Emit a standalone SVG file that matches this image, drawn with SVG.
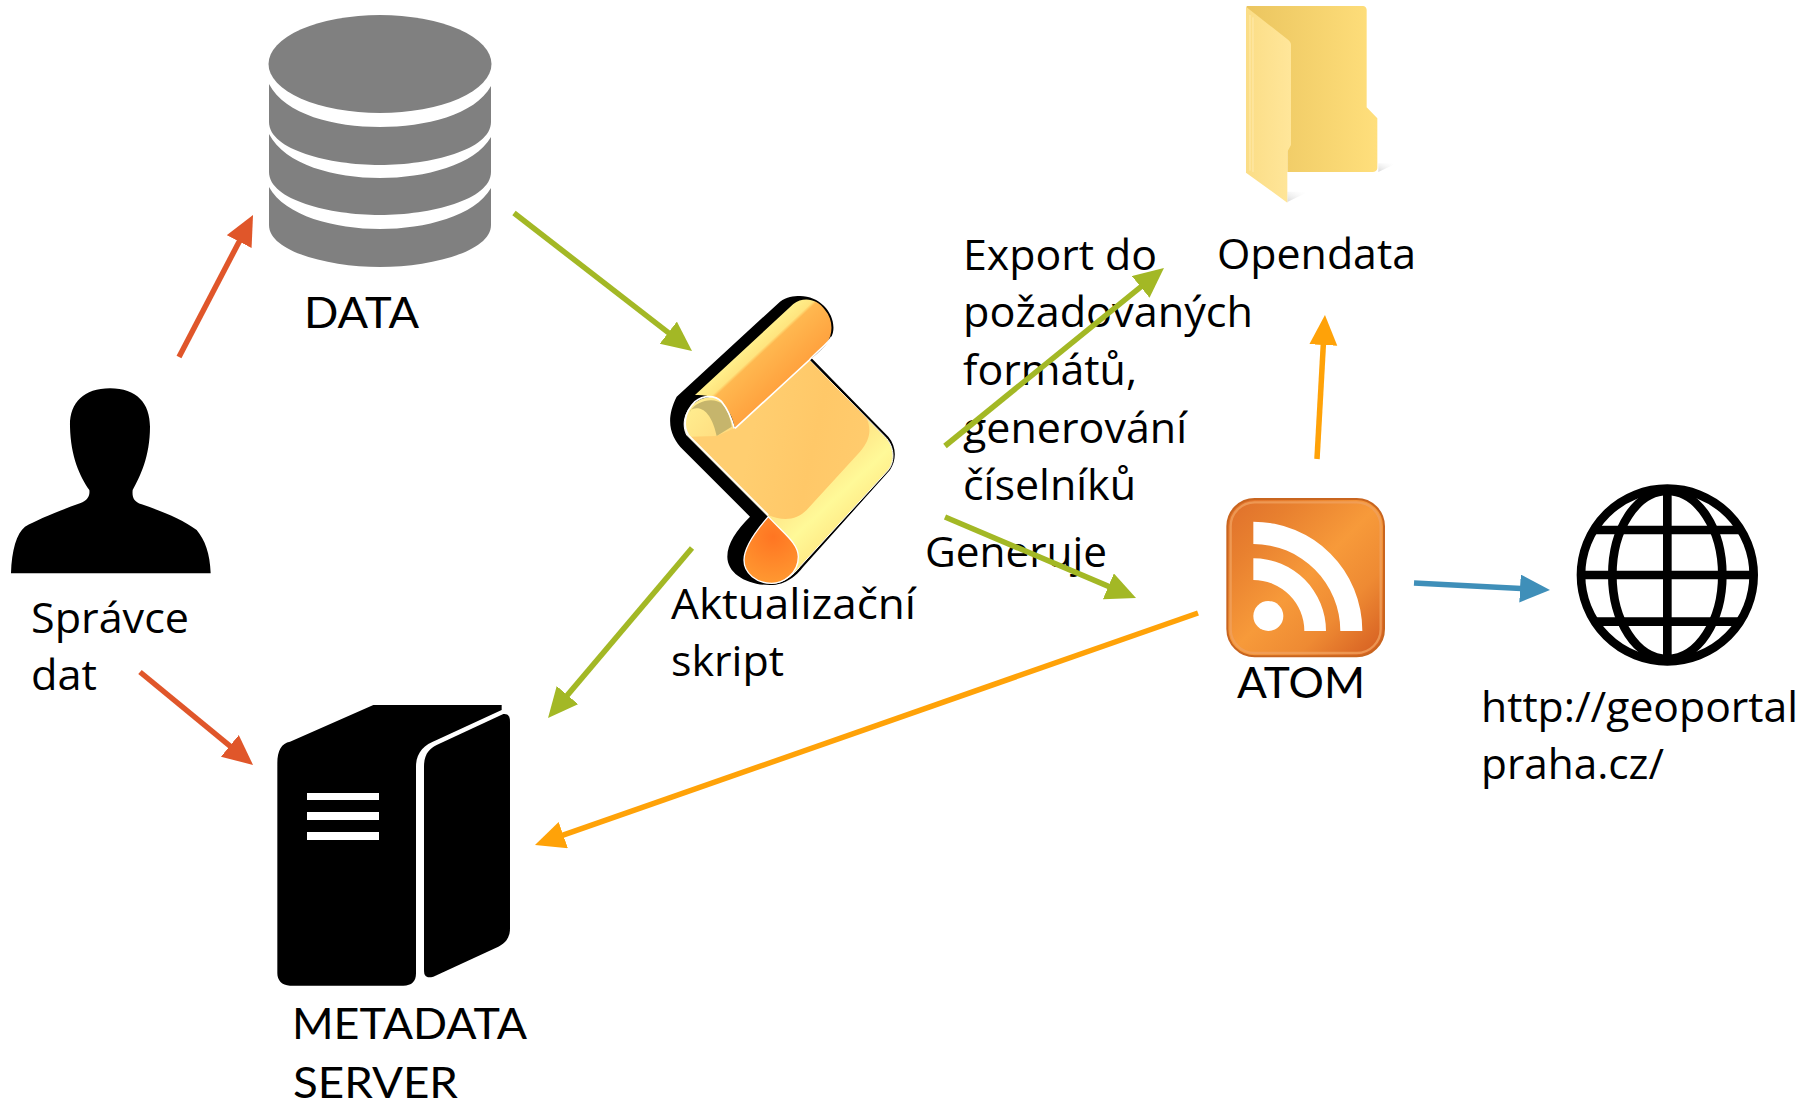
<svg xmlns="http://www.w3.org/2000/svg" width="1803" height="1103" viewBox="0 0 1803 1103">
<style>
text{font-family:"Open Sans","Noto Sans","Liberation Sans",sans-serif;font-size:42px;fill:#000}
text.caps{font-family:Lato,"Open Sans","Liberation Sans",sans-serif}
.c{fill:none;stroke-width:5.500}
</style>
<defs>
<marker id="mr" markerUnits="userSpaceOnUse" markerWidth="32" markerHeight="30" refX="20" refY="14" orient="auto"><path d="M0,0L30,14L0,28Z" fill="#E0562A"/></marker>
<marker id="mg" markerUnits="userSpaceOnUse" markerWidth="32" markerHeight="30" refX="20" refY="14" orient="auto"><path d="M0,0L30,14L0,28Z" fill="#A3B825"/></marker>
<marker id="mo" markerUnits="userSpaceOnUse" markerWidth="32" markerHeight="30" refX="20" refY="14" orient="auto"><path d="M0,0L30,14L0,28Z" fill="#FFA208"/></marker>
<marker id="mb" markerUnits="userSpaceOnUse" markerWidth="32" markerHeight="30" refX="20" refY="14" orient="auto"><path d="M0,0L30,14L0,28Z" fill="#3F8FB9"/></marker>
<linearGradient id="rollG" gradientUnits="userSpaceOnUse" x1="310" y1="207" x2="417" y2="322"><stop offset="0" stop-color="#FFF08C"/><stop offset=".24" stop-color="#FFE47E"/><stop offset=".3" stop-color="#FFB850"/><stop offset="1" stop-color="#FFA23E"/></linearGradient>
<linearGradient id="sheetG" gradientUnits="userSpaceOnUse" x1="330" y1="480" x2="700" y2="560"><stop offset="0" stop-color="#FFCE70"/><stop offset=".5" stop-color="#FFC868"/><stop offset="1" stop-color="#FFCC6E"/></linearGradient>
<linearGradient id="paperG" gradientUnits="userSpaceOnUse" x1="520" y1="560" x2="650" y2="700"><stop offset="0" stop-color="#FFE284"/><stop offset=".6" stop-color="#FFF998"/><stop offset="1" stop-color="#FFEC88"/></linearGradient>
<linearGradient id="endG" gradientUnits="userSpaceOnUse" x1="130" y1="410" x2="300" y2="560"><stop offset="0" stop-color="#FFEC8E"/><stop offset="1" stop-color="#FFD074"/></linearGradient>
<radialGradient id="tipG" gradientUnits="userSpaceOnUse" cx="400" cy="770" r="150"><stop offset="0" stop-color="#FF7522"/><stop offset="1" stop-color="#FF9B32"/></radialGradient>
<linearGradient id="rssG" x1="0" y1="0" x2="1" y2="1"><stop offset="0" stop-color="#DF6F2B"/><stop offset=".22" stop-color="#E8802F"/><stop offset=".5" stop-color="#F79A3A"/><stop offset=".72" stop-color="#EE8A33"/><stop offset="1" stop-color="#D35A20"/></linearGradient>
<linearGradient id="backG" x1="0" y1="0" x2="1" y2="0"><stop offset="0" stop-color="#EBC55F"/><stop offset="1" stop-color="#FFDF7C"/></linearGradient>
<linearGradient id="flapG" x1="0" y1="0" x2="1" y2="0"><stop offset="0" stop-color="#FBDD86"/><stop offset="1" stop-color="#FFE69A"/></linearGradient>
<linearGradient id="shG" x1="0" y1="1" x2="1" y2="0"><stop offset="0" stop-color="#B8B8B8" stop-opacity=".55"/><stop offset="1" stop-color="#fff" stop-opacity="0"/></linearGradient>
</defs>
<g id="node-data">
<g fill="#808080">
<ellipse cx="380" cy="64" rx="111.500" ry="49"/>
<path d="M269,84C285,115 335,127 380,127C425,127 475,115 491,86L491,122C491,150 430,165 380,165C330,165 269,150 269,122Z"/>
<path d="M269,134C285,165 335,178 380,178C425,178 475,165 491,137L491,172C491,200 430,215 380,215C330,215 269,200 269,172Z"/>
<path d="M269,187C285,216 335,229 380,229C425,229 475,216 491,188L491,225C491,252 430,267 380,267C330,267 269,252 269,225Z"/>
</g>
<text class="caps" x="304" y="328" textLength="115" lengthAdjust="spacingAndGlyphs">DATA</text>
</g>
<g id="node-spravce">
<path transform="translate(0,370) scale(.33333)" d="M33,610C35,540 50,490 75,470C110,450 170,425 240,400C265,390 270,375 268,360C240,320 212,260 210,170C208,100 250,55 330,55C410,55 450,100 450,170C450,260 420,320 398,360C396,380 400,395 425,403C490,425 550,450 590,480C615,510 630,550 632,610Z"/>
<text x="31" y="633" textLength="158" lengthAdjust="spacingAndGlyphs">Správce</text>
<text x="31" y="690" textLength="66" lengthAdjust="spacingAndGlyphs">dat</text>
</g>
<g id="node-server">
<g transform="translate(260,690) scale(.33333)">
<path d="M52,220C52,180 65,160 90,155L340,45L725,45L725,60L530,150C490,165 468,190 468,230L468,850C468,875 455,887 430,887L90,887C65,887 52,870 52,850Z"/>
<path d="M492,230C492,190 510,175 530,165L730,72C745,70 750,80 750,95L750,715C750,745 735,760 715,770L520,860C500,865 492,860 492,840Z"/>
<g fill="#fff"><rect x="141" y="309" width="216" height="21"/><rect x="141" y="366" width="216" height="24"/><rect x="141" y="426" width="216" height="24"/></g>
</g>
<text class="caps" x="292" y="1039" textLength="235" lengthAdjust="spacingAndGlyphs">METADATA</text>
<text class="caps" x="293" y="1098" textLength="165" lengthAdjust="spacingAndGlyphs">SERVER</text>
</g>
<g id="node-skript">
<g transform="translate(640,280) scale(.33333)">
<path d="M480,48C540,48 585,100 580,150C578,175 560,195 515,235L745,470C770,500 770,540 750,570L490,860C470,885 440,915 390,915C320,915 262,880 262,830C262,790 290,750 330,710L130,510C90,470 75,420 110,350L420,65C440,50 460,48 480,48Z"/>
<path d="M508,240L735,470C765,500 765,545 745,570L480,860C460,885 430,910 395,910L385,710L140,465C130,445 130,420 140,400L285,445Z" fill="url(#paperG)" stroke="#fff" stroke-width="3"/>
<path d="M508,240L680,415C695,450 690,480 660,515L500,690C470,720 430,725 385,705L145,465L285,445Z" fill="url(#sheetG)"/>
<path d="M385,710C430,760 475,790 475,830C475,880 430,910 395,910C350,910 312,880 312,840C312,800 350,750 385,710Z" fill="url(#tipG)" stroke="#fff" stroke-width="4"/>
<path d="M165,345L460,72C490,50 530,55 555,90C580,120 580,160 560,190L508,240L285,445C275,390 240,340 165,345Z" fill="url(#rollG)"/>
<path d="M575,170C570,185 530,215 508,240L285,445" fill="none" stroke="#fff" stroke-width="5"/>
<path d="M135,420C135,375 190,345 225,352C260,365 275,410 283,445L230,468L150,470C138,450 135,435 135,420Z" fill="url(#endG)"/>
<path d="M150,395C170,360 225,350 250,375C265,395 272,420 275,440L230,468C222,430 205,390 175,385C160,385 150,390 150,395Z" fill="#C6B56C"/>
<path d="M145,465C130,440 130,400 165,365C190,345 225,345 245,365C265,390 275,415 283,445" fill="none" stroke="#fff" stroke-width="5"/>
<path d="M145,465L385,705" fill="none" stroke="#fff" stroke-width="4"/>
</g>
<text x="671" y="619" textLength="245" lengthAdjust="spacingAndGlyphs">Aktualizační</text>
<text x="671" y="676" textLength="113" lengthAdjust="spacingAndGlyphs">skript</text>
</g>
<g id="node-opendata">
<g transform="translate(1200,0) scale(.33333)">
<path d="M535,490L590,490L535,516Z" fill="url(#shG)"/>
<path d="M262,575L325,575L262,606Z" fill="url(#shG)"/>
<path d="M140,18L490,18C497,18 500,25 500,30L500,322L532,355L532,505C532,512 525,516 518,516L262,516L262,200L140,40Z" fill="url(#backG)"/>
<path d="M138,20L265,120C272,127 273,130 273,135L273,435L262,455L262,608L138,518Z" fill="url(#flapG)"/>
<path d="M150,45V512M159,52V516" stroke="#FFEBAE" stroke-width="3" fill="none"/>
</g>
<text x="1217" y="269" textLength="199" lengthAdjust="spacingAndGlyphs">Opendata</text>
</g>
<g id="node-atom">
<g transform="translate(1200,470) scale(.33333)">
<rect x="82" y="87" width="470" height="472" rx="82" fill="url(#rssG)" stroke="#C9651F" stroke-width="6"/>
<rect x="92" y="97" width="450" height="452" rx="72" fill="none" stroke="#F0A05C" stroke-width="7" opacity=".8"/>
<g fill="#fff">
<circle cx="205" cy="438" r="45"/>
<path d="M160,265A218,218 0 0 1 378,483L313,483A153,153 0 0 0 160,330Z"/>
<path d="M160,155A327,327 0 0 1 487,483L421,483A261,261 0 0 0 160,222Z"/>
</g>
</g>
<text class="caps" x="1237" y="698" textLength="128" lengthAdjust="spacingAndGlyphs">ATOM</text>
</g>
<g id="node-web">
<g transform="translate(1560,470) scale(.33333)" fill="none" stroke="#000" stroke-width="26">
<circle cx="322" cy="315" r="259"/>
<ellipse cx="322" cy="315" rx="165" ry="252"/>
<path d="M322,55V575M62,315H582M105,180H540M105,455H540"/>
</g>
<text x="1481" y="722" textLength="317" lengthAdjust="spacingAndGlyphs">http://geoportal</text>
<text x="1481" y="779" textLength="183" lengthAdjust="spacingAndGlyphs">praha.cz/</text>
</g>
<g id="label-export">
<text x="963" y="270" textLength="194" lengthAdjust="spacingAndGlyphs">Export do</text>
<text x="963" y="327" textLength="290" lengthAdjust="spacingAndGlyphs">požadovaných</text>
<text x="963" y="385" textLength="174" lengthAdjust="spacingAndGlyphs">formátů,</text>
<text x="963" y="443" textLength="224" lengthAdjust="spacingAndGlyphs">generování</text>
<text x="963" y="500" textLength="173" lengthAdjust="spacingAndGlyphs">číselníků</text>
</g>
<g id="label-generuje"><text x="925" y="567" textLength="182" lengthAdjust="spacingAndGlyphs">Generuje</text></g>
<g id="connectors">
<path class="c" stroke="#E0562A" marker-end="url(#mr)" d="M179,357L248.400,223.900"/>
<path class="c" stroke="#E0562A" marker-end="url(#mr)" d="M140,672L245.300,758.600"/>
<path class="c" stroke="#A3B825" marker-end="url(#mg)" d="M514,213L684.100,344.900"/>
<path class="c" stroke="#A3B825" marker-end="url(#mg)" d="M692,548L554.500,710.400"/>
<path class="c" stroke="#A3B825" marker-end="url(#mg)" d="M945,446L1156.200,274.300"/>
<path class="c" stroke="#A3B825" marker-end="url(#mg)" d="M945,517L1126.800,594.100"/>
<path class="c" stroke="#FFA208" marker-end="url(#mo)" d="M1317,459L1324.400,325"/>
<path class="c" stroke="#FFA208" marker-end="url(#mo)" d="M1198,613L544.400,841.700"/>
<path class="c" stroke="#3F8FB9" marker-end="url(#mb)" d="M1414,583L1540,589.500"/>
</g>
</svg>
